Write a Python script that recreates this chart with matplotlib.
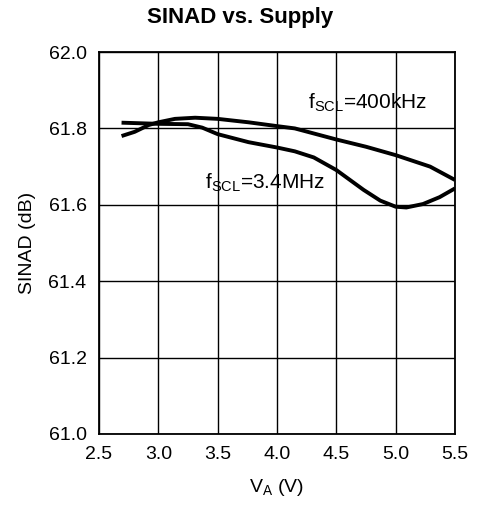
import numpy as np
import matplotlib.pyplot as plt

plt.rcParams['font.family'] = ['Liberation Sans', 'DejaVu Sans']
plt.rcParams['mathtext.fontset'] = 'custom'
plt.rcParams['mathtext.rm'] = 'Liberation Sans'

# --- Data ---
va_400k = [2.69, 2.80, 2.92, 3.00, 3.14, 3.31, 3.50, 3.76, 4.00, 4.15, 4.50, 4.75, 5.00, 5.29, 5.50]
sinad_400k = [61.780, 61.791, 61.809, 61.816, 61.825, 61.828, 61.825, 61.816, 61.806, 61.800,
              61.771, 61.752, 61.730, 61.700, 61.665]

va_3m4 = [2.69, 3.00, 3.25, 3.37, 3.50, 3.76, 4.00, 4.15, 4.31, 4.50, 4.73, 4.87, 5.00, 5.09,
          5.23, 5.37, 5.50]
sinad_3m4 = [61.815, 61.812, 61.811, 61.802, 61.785, 61.764, 61.750, 61.740, 61.724, 61.691,
             61.639, 61.611, 61.595, 61.593, 61.602, 61.620, 61.643]

xticks = [2.5, 3.0, 3.5, 4.0, 4.5, 5.0, 5.5]
yticks = [61.0, 61.2, 61.4, 61.6, 61.8, 62.0]

fig = plt.figure(figsize=(4.82, 5.08), dpi=100)
ax = fig.add_axes([0.2054, 0.1457, 0.7386, 0.7519])

ax.plot(va_400k, sinad_400k, color='black', lw=2.8, solid_capstyle='butt', solid_joinstyle='round')
ax.plot(va_3m4, sinad_3m4, color='black', lw=2.8, solid_capstyle='butt', solid_joinstyle='round')

ax.set_xlim(2.5, 5.5)
ax.set_ylim(61.0, 62.0)
ax.set_xticks(xticks)
ax.set_xticklabels([f'{v:.1f}' for v in xticks])
ax.set_yticks(yticks)
ax.set_yticklabels([f'{v:.1f}' for v in yticks])
ax.tick_params(length=0, labelsize=14, pad=9)
ax.grid(True, color='black', lw=1.0)
for s in ax.spines.values():
    s.set_linewidth(1.3)

ax.text(4.26, 61.853, r'f$_{\mathregular{SCL}}$=400kHz', fontsize=15, ha='left', va='baseline')
ax.text(3.39, 61.644, r'f$_{\mathregular{SCL}}$=3.4MHz', fontsize=15, ha='left', va='baseline')

fig.text(0.499, 1 - 18 / 508, 'SINAD vs. Supply', fontsize=16, fontweight='bold',
         ha='center', va='center')
ax.set_xlabel(r'V$_{\mathregular{A}}$ (V)', fontsize=14, labelpad=10)
ax.set_ylabel('SINAD (dB)', fontsize=14, labelpad=9)

fig.savefig('out.png', dpi=100)
